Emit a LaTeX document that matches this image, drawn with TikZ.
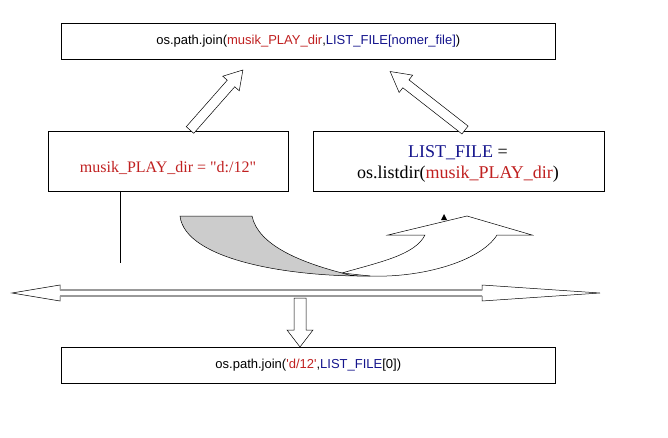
\documentclass[tikz,border=0pt]{standalone}
\usepackage{fontspec}
\setmainfont{Liberation Serif}
\newfontfamily\arialf{Liberation Sans}
\begin{document}
\definecolor{cr}{RGB}{192,32,32}
\definecolor{cb}{RGB}{20,20,140}
\begin{tikzpicture}[x=1pt,y=-1pt,
  box/.style={draw,line width=0.6pt,inner sep=0,anchor=north west},
  blk/.style={draw,line width=0.5pt,fill=white}]
\useasboundingbox (0,0) rectangle (668,438);
\node[box,minimum width=494pt,minimum height=36pt] (top) at (61,23) {};
\node[font=\arialf\fontsize{13}{15}\selectfont] (toptxt) at (top.center) {os.path.join(\textcolor{cr}{musik\_PLAY\_dir},\textcolor{cb}{LIST\_FILE[nomer\_file]})};
\node[box,minimum width=240pt,minimum height=60pt] (left) at (48,131) {};
\node[font=\fontsize{16}{18}\selectfont,text=cr] (lefttxt) at (168,168) {musik\_PLAY\_dir = \textquotedbl d:/12\textquotedbl};
\node[box,minimum width=291pt,minimum height=60pt] (right) at (313,131) {};
\node[font=\fontsize{18}{21}\selectfont,align=center] (righttxt) at (458,164) {\textcolor{cb}{LIST\_FILE} =\\os.listdir(\textcolor{cr}{musik\_PLAY\_dir})};
\node[box,minimum width=494pt,minimum height=36pt] (bot) at (61,347) {};
\node[font=\arialf\fontsize{13}{15}\selectfont] (bottxt) at (bot.center) {os.path.join(\textcolor{cr}{'d/12'},\textcolor{cb}{LIST\_FILE}[0])};
% vertical line
\coordinate (vl) at (120,263);
\draw[line width=0.6pt] (120,191) -- (vl);
% up block arrows
\begin{scope}[shift={(190,130)},rotate=48.6]
\draw[blk] (0,-5) -- (62,-5) -- (62,-11) -- (80,0) -- (62,11) -- (62,5) -- (0,5) -- cycle;
\end{scope}
\begin{scope}[shift={(465,130)},rotate=142]
\draw[blk] (0,-5) -- (75,-5) -- (75,-11) -- (95,0) -- (75,11) -- (75,5) -- (0,5) -- cycle;
\end{scope}
% horizontal double arrow
\draw[line width=0.5pt,fill=white] (12,293) -- (60,285) -- (60,290) -- (482,290) -- (482,285) -- (600,293) -- (482,301) -- (482,296) -- (60,296) -- (60,301) -- cycle;
\draw[gray!80,line width=1.2pt] (60,290) -- (482,290) (60,296) -- (482,296);
% down block arrow
\draw[blk] (294,298) -- (306,298) -- (306,330) -- (313,330) -- (300,347) -- (287,330) -- (294,330) -- cycle;
% curved arrow
\draw[line width=0.5pt,fill=white] (342,273) .. controls (380,262) and (415,255) .. (425,235) -- (388,235) -- (467,216) -- (532,235) -- (497,235) .. controls (480,262) and (420,278) .. (370,276) -- cycle;
\draw[line width=0.5pt,fill=gray!40] (180,216) -- (252,216) .. controls (258,245) and (300,262) .. (342,273) .. controls (350,276) and (360,276) .. (370,276) .. controls (290,277) and (185,260) .. (180,216) -- cycle;
\fill (441,220) -- (444,214) -- (447,220) -- cycle;
\end{tikzpicture}
\end{document}
